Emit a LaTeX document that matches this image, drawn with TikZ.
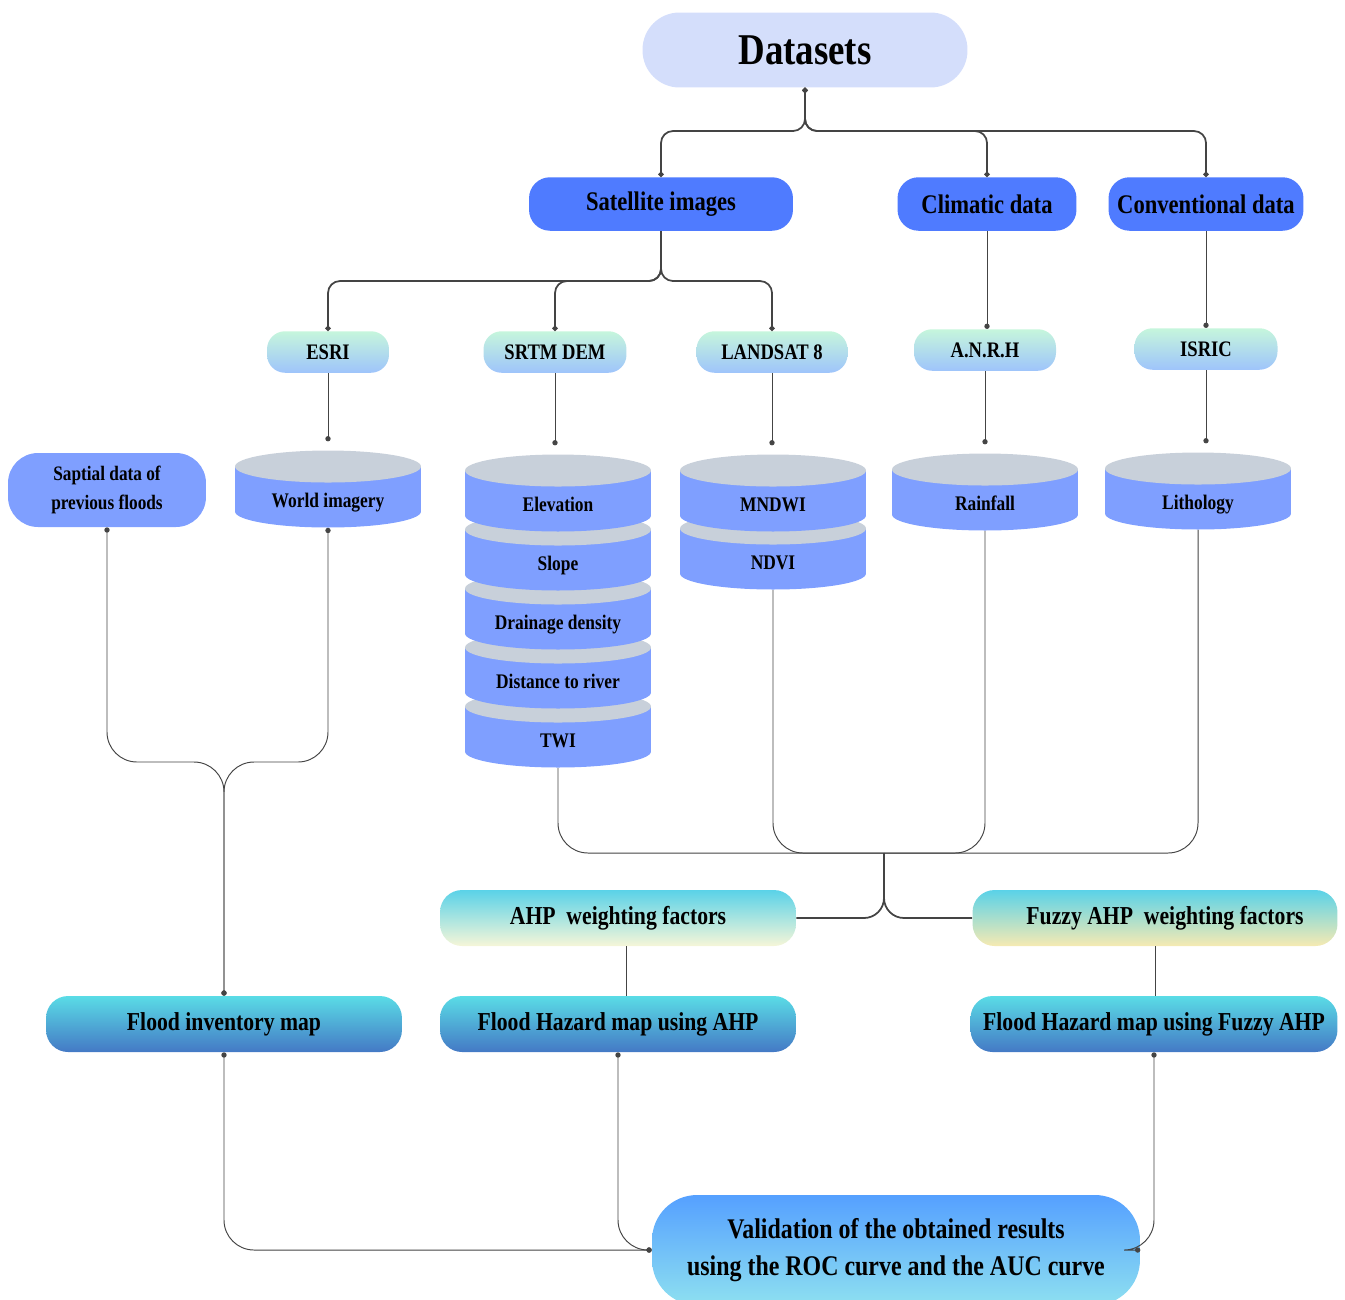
\documentclass[tikz,border=0pt]{standalone}
\usepackage{fontspec}
\setmainfont{Liberation Serif}[FakeStretch=0.84]
\usetikzlibrary{arrows.meta}
\definecolor{dsc}{HTML}{D4DEFB}
\definecolor{grp}{HTML}{4F7BFF}
\definecolor{srcT}{HTML}{C6F6DC}
\definecolor{srcB}{HTML}{9EC4FB}
\definecolor{cylB}{HTML}{7F9FFF}
\definecolor{cylT}{HTML}{C8D0DA}
\definecolor{wT}{HTML}{5AD2E8}
\definecolor{ahpy}{HTML}{F6F6D8}
\definecolor{fuzy}{HTML}{F6EAB2}
\definecolor{mapT}{HTML}{5ADCE6}
\definecolor{mapB}{HTML}{4479C5}
\definecolor{valT}{HTML}{55A0FF}
\definecolor{valB}{HTML}{8EE0F0}
\definecolor{lnc}{HTML}{444444}
\begin{document}
\begin{tikzpicture}[x=0.02cm, y=-0.02cm, >={Circle[length=3pt]},
  grupo/.style={fill=grp, rounded corners=0.42cm, minimum width=#1, minimum height=1.07cm, inner sep=0pt, font=\bfseries\fontsize{15.3}{18}\selectfont},
  fuente/.style={top color=srcT, bottom color=srcB, rounded corners=0.36cm, minimum width=#1, minimum height=0.83cm, inner sep=0pt, font=\bfseries\fontsize{12.6}{15}\selectfont},
  capa/.style={minimum width=3.72cm, minimum height=1.54cm, inner sep=0pt, text height=23pt, text depth=1.4pt, font=\bfseries\fontsize{11.8}{14}\selectfont,
    path picture={
      \fill[cylB] ([yshift=-0.32cm]path picture bounding box.north west) rectangle ([yshift=0.32cm]path picture bounding box.south east);
      \fill[cylB] ([yshift=0.32cm]path picture bounding box.south) ellipse [x radius=1.86cm, y radius=0.32cm];
      \fill[cylT] ([yshift=-0.32cm]path picture bounding box.north) ellipse [x radius=1.86cm, y radius=0.32cm];}},
  peso/.style={top color=wT, rounded corners=0.44cm, minimum width=#1, minimum height=1.12cm, inner sep=0pt, font=\bfseries\fontsize{14.7}{17}\selectfont},
  mapa/.style={top color=mapT, bottom color=mapB, rounded corners=0.44cm, minimum width=#1, minimum height=1.12cm, inner sep=0pt, font=\bfseries\fontsize{14.7}{17}\selectfont},
  link/.style={draw=lnc, line width=1pt},
  thin link/.style={draw=lnc, line width=0.55pt}]
\useasboundingbox (0,0) rectangle (1345,1299);
\node[fill=dsc, rounded corners=0.74cm, minimum width=6.5cm, minimum height=1.5cm, font=\bfseries\fontsize{25}{30}\selectfont] (data) at (805,50) {Datasets};
\node[grupo=5.28cm] (sat) at (661,204) {Satellite images};
\node[grupo=3.58cm] (clim) at (987,204) {Climatic data};
\node[grupo=3.9cm] (conv) at (1206,204) {Conventional data};
\node[fuente=2.44cm] (esri) at (328,352) {ESRI};
\node[fuente=2.86cm] (srtm) at (555,352) {SRTM DEM};
\node[fuente=3.02cm] (land) at (772,352) {LANDSAT 8};
\node[fuente=2.84cm] (anrh) at (985,350) {A.N.R.H};
\node[fuente=2.86cm] (isric) at (1206,349) {ISRIC};
\node[fill=cylB, rounded corners=0.6cm, minimum width=3.96cm, minimum height=1.48cm, align=center, font=\bfseries\fontsize{11.7}{17}\selectfont] (spat) at (107,490) {Saptial data of\\previous floods};
\node[capa] (world) at (328,489) {World imagery};
\node[capa] (twi) at (558,729) {TWI};
\node[capa] (dist) at (558,670) {Distance to river};
\node[capa] (drain) at (558,611) {Drainage density};
\node[capa] (slope) at (558,552) {Slope};
\node[capa] (elev) at (558,493) {Elevation};
\node[capa] (ndvi) at (773,551) {NDVI};
\node[capa] (mndwi) at (773,493) {MNDWI};
\node[capa] (rain) at (985,492) {Rainfall};
\node[capa] (lith) at (1198,491) {Lithology};
\node[peso=7.12cm, bottom color=ahpy] (ahpw) at (618,918) {AHP~ weighting factors};
\node[peso=7.3cm, bottom color=fuzy] (fahpw) at (1155,918) {\hspace{0.4cm}Fuzzy AHP~ weighting factors};
\node[mapa=7.12cm] (inv) at (224,1024) {Flood inventory map};
\node[mapa=7.12cm] (hahp) at (618,1024) {Flood Hazard map using AHP};
\node[mapa=7.34cm] (hfahp) at (1154,1024) {Flood Hazard map using Fuzzy AHP};
\node[top color=valT, bottom color=valB, rounded corners=0.9cm, minimum width=9.76cm, minimum height=2.2cm, align=center, font=\bfseries\fontsize{16.2}{21}\selectfont] (val) at (896,1250) {Validation of the obtained results\\using the ROC curve and the AUC curve};
\coordinate (d) at (805,131);
\coordinate (s) at (661,281);
\coordinate (m) at (224,762);
\coordinate (j) at (884,853);
\draw[link, <->, rounded corners=0.24cm] (data.south) -- (d) -| (sat.north);
\draw[link, <->, rounded corners=0.24cm] (data.south) -- (d) -| (clim.north);
\draw[link, <->, rounded corners=0.24cm] (data.south) -- (d) -| (conv.north);
\draw[link, ->, rounded corners=0.24cm] (sat.south) -- (s) -| (esri.north);
\draw[link, ->, rounded corners=0.24cm] (sat.south) -- (s) -| (srtm.north);
\draw[link, ->, rounded corners=0.24cm] (sat.south) -- (s) -| (land.north);
\draw[thin link, ->] (clim.south) -- (clim.south |- anrh.north);
\draw[thin link, ->] (conv.south) -- (conv.south |- isric.north);
\draw[thin link, ->, shorten >=5pt] (esri.south) -- (world.north);
\draw[thin link, ->, shorten >=5pt] (srtm.south) -- (srtm.south |- elev.north);
\draw[thin link, ->, shorten >=5pt] (land.south) -- (land.south |- mndwi.north);
\draw[thin link, ->, shorten >=5pt] (anrh.south) -- (anrh.south |- rain.north);
\draw[thin link, ->, shorten >=5pt] (isric.south) -- (isric.south |- lith.north);
\draw[thin link, <->, rounded corners=0.6cm] (spat.south) |- (m) -- (inv.north);
\draw[thin link, <->, rounded corners=0.6cm] (world.south) |- (m) -- (inv.north);
\draw[thin link, rounded corners=0.6cm] (twi.south) |- (j);
\draw[thin link, rounded corners=0.6cm] (ndvi.south) |- (j);
\draw[thin link, rounded corners=0.6cm] (rain.south) |- (j);
\draw[thin link, rounded corners=0.6cm] (lith.south) |- (j);
\draw[link, rounded corners=0.4cm] (j) |- (ahpw.east);
\draw[link, rounded corners=0.4cm] (j) |- (fahpw.west);
\draw[thin link] ([xshift=0.16cm]ahpw.south) -- ([xshift=0.16cm]hahp.north);
\draw[thin link] (fahpw.south) -- (fahpw.south |- hfahp.north);
\draw[thin link, <->, rounded corners=0.6cm] (inv.south) |- (val.west);
\draw[thin link, <->, rounded corners=0.6cm] (hahp.south) |- (val.west);
\draw[thin link, <->, rounded corners=0.6cm] (hfahp.south) |- (val.east);
\end{tikzpicture}
\end{document}
